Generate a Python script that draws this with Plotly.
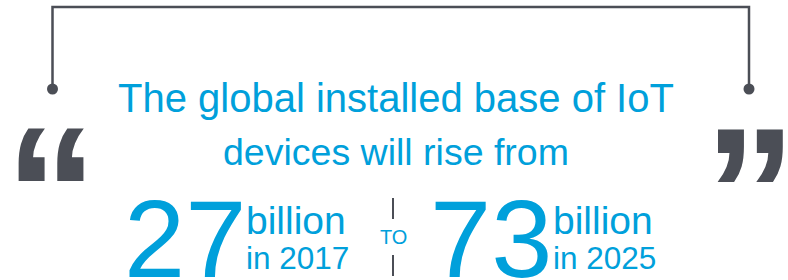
import plotly.graph_objects as go

# ---- content ----
headline_lines = ["The global installed base of IoT", "devices will rise from"]
values_billion = [27, 73]
years = [2017, 2025]
unit_label = "billion"
connector_label = "TO"
open_quote = "\u201C"
close_quote = "\u201D"

BLUE = "#00a0db"
GRAY = "#4b4e56"
W, H = 788, 280
FONT = "Liberation Sans, Arial, sans-serif"

fig = go.Figure()

def ann(text, x, y, size, color=BLUE, xanchor="center", family=FONT, weight=None):
    f = dict(size=size, color=color, family=family)
    if weight:
        f["weight"] = weight
    fig.add_annotation(x=x, y=y, xref="x", yref="y", text=text, showarrow=False,
                       xanchor=xanchor, yanchor="middle", font=f)

# headline
ann(headline_lines[0], 396, 98.1, 40)
ann(headline_lines[1], 396, 152.0, 37.5)

# big numbers
num_x = [184.5, 491]
label_x = [243.5, 550.5]
for v, yr, nx, lx in zip(values_billion, years, num_x, label_x):
    ann(str(v), nx, 238.0, 110)
    ann(unit_label, lx, 220.5, 39, xanchor="left")
    ann(f"in {yr}", lx + 0.5, 258.0, 31.5, xanchor="left")

# connector
ann(connector_label, 393, 237, 20)
fig.add_shape(type="line", x0=393, x1=393, y0=198, y1=219, line=dict(color=GRAY, width=2))
fig.add_shape(type="line", x0=393, x1=393, y0=255, y1=276, line=dict(color=GRAY, width=2))

# quote marks
QFONT = "Liberation Sans, Arial, sans-serif"
ann(open_quote, 51.5, 192, 185, color=GRAY, family=QFONT, weight="bold")
ann(close_quote, 750.5, 193, 185, color=GRAY, family=QFONT, weight="bold")

# bracket
fig.add_shape(type="path", path="M 52.5,89 L 52.5,7 L 749,7 L 749,89",
              line=dict(color=GRAY, width=2.5))
for cx in (52.5, 749):
    fig.add_shape(type="circle", x0=cx - 5.5, x1=cx + 5.5, y0=83.5, y1=94.5,
                  fillcolor=GRAY, line=dict(width=0))

fig.update_xaxes(range=[0, W], visible=False, fixedrange=True)
fig.update_yaxes(range=[H, 0], visible=False, fixedrange=True)
fig.update_layout(width=W, height=H, margin=dict(l=0, r=0, t=0, b=0),
                  paper_bgcolor="white", plot_bgcolor="white", showlegend=False)

fig.write_html("out.html", config={"displayModeBar": False},
               post_script="document.body.style.margin='0';document.body.style.overflow='hidden';")
